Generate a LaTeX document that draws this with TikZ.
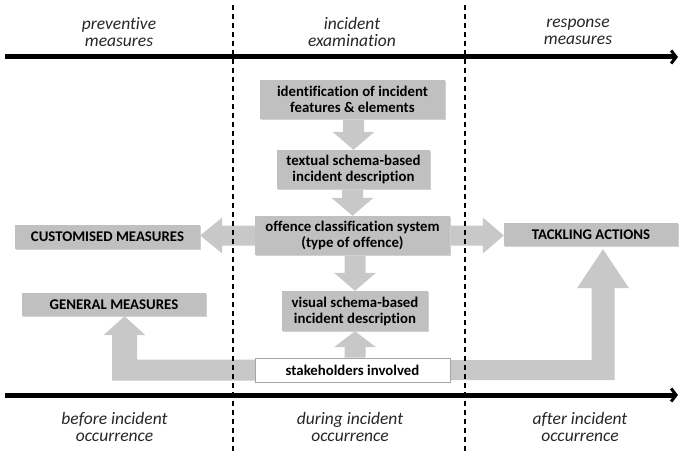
\documentclass[tikz,border=0pt]{standalone}
\usepackage{fontspec}
\setmainfont[Ligatures=NoCommon]{Carlito}
\usetikzlibrary{calc,arrows.meta,backgrounds,shadows}
\definecolor{boxgray}{RGB}{192,192,192}
\definecolor{arrgray}{RGB}{200,200,200}
\newcommand\fatdown[2]{%
  \path[fatarrow] let \p1=(#1), \p2=(#2) in
   (\x2-10.5,\y1) -- (\x2-10.5,\y2+18) -- (\x2-21,\y2+18) -- (\x2,\y2) --
   (\x2+21,\y2+18) -- (\x2+10.5,\y2+18) -- (\x2+10.5,\y1) -- cycle;}
\newcommand\fatup[2]{%
  \path[fatarrow] let \p1=(#1), \p2=(#2) in
   (\x2-10.5,\y1) -- (\x2-10.5,\y2-16) -- (\x2-21,\y2-16) -- (\x2,\y2) --
   (\x2+21,\y2-16) -- (\x2+10.5,\y2-16) -- (\x2+10.5,\y1) -- cycle;}
\begin{document}
\begin{tikzpicture}[x=1pt,y=-1pt,
  box/.style={fill=boxgray,draw=none,inner sep=0pt,align=center,
    font=\fontsize{14.8}{16}\selectfont\bfseries,
    drop shadow={shadow xshift=1pt,shadow yshift=-1pt,fill=black!18,opacity=1}},
  whitebox/.style={fill=white,draw=black!35,line width=0.8pt,inner sep=0pt,align=center,
    font=\fontsize{14.8}{16}\selectfont\bfseries,
    drop shadow={shadow xshift=1pt,shadow yshift=-1pt,fill=black!18,opacity=1}},
  lbl/.style={align=center,font=\fontsize{17.5}{16.5}\selectfont\itshape,text=black!85},
  fatarrow/.style={fill=arrgray,draw=none},
  timeline/.style={line width=5pt,-{Straight Barb[length=5pt,width=13pt,line width=3pt]}},
  divider/.style={line width=1.2pt,dash pattern=on 5pt off 4pt}]
\useasboundingbox (0,0) rectangle (681,452);

% dividers
\coordinate (d1t) at (233,5); \coordinate (d1b) at (233,452);
\coordinate (d2t) at (465,5); \coordinate (d2b) at (465,452);
\draw[divider] (d1t) -- (d1b);
\draw[divider] (d2t) -- (d2b);

% timelines
\coordinate (t1a) at (5,57); \coordinate (t1b) at (678,57);
\coordinate (t2a) at (5,395); \coordinate (t2b) at (678,395);
\draw[timeline] (t1a) -- (t1b);
\draw[timeline] (t2a) -- (t2b);

% phase labels
\node[lbl] (h1) at (119,32) {preventive\\measures};
\node[lbl] (h2) at (352,32) {incident\\examination};
\node[lbl] (h3) at (578,32) {response\\measures};
\node[lbl] (f1) at (114.5,427) {before incident\\occurrence};
\node[lbl] (f2) at (350,427) {during incident\\occurrence};
\node[lbl] (f3) at (580,427) {after incident\\occurrence};

% boxes
\node[box,minimum width=185pt,minimum height=39pt] (ident) at (352.5,99.5) {identification of incident\\features \& elements};
\node[box,minimum width=153pt,minimum height=39pt] (textual) at (353.5,169.5) {textual schema-based\\incident description};
\node[box,minimum width=195pt,minimum height=39pt] (offence) at (352.5,235.5) {offence classification system\\(type of offence)};
\node[box,minimum width=146pt,minimum height=40pt] (visual) at (355,311) {visual schema-based\\incident description};
\node[whitebox,minimum width=195pt,minimum height=24pt] (stake) at (352.5,370) {stakeholders involved};
\node[box,minimum width=185pt,minimum height=24pt] (custom) at (107.5,237) {CUSTOMISED MEASURES};
\node[box,minimum width=184pt,minimum height=23pt] (general) at (114,304.5) {GENERAL MEASURES};
\node[box,minimum width=174pt,minimum height=23pt] (tackling) at (591,234.5) {TACKLING ACTIONS};

\coordinate (gtip) at ($(general.south)+(10.5,0)$);
\coordinate (ttip) at ($(tackling.south)+(12,3)$);

\begin{scope}[on background layer]
  \fatdown{ident.south}{textual.north}
  \fatdown{textual.south}{offence.north}
  \fatdown{offence.south}{visual.north}
  \fatup{stake.north}{visual.south}
  % left and right
  \path[fatarrow] let \p1=(offence.west), \p2=(custom.east) in
    (\x1,\y1-10) -- (\x2+22,\y1-10) -- (\x2+22,\y1-18) -- (\x2,\y1) --
    (\x2+22,\y1+18) -- (\x2+22,\y1+10) -- (\x1,\y1+10) -- cycle;
  \path[fatarrow] let \p1=(offence.east), \p2=(tackling.west) in
    (\x1,\y1-10) -- (\x2-21,\y1-10) -- (\x2-21,\y1-18) -- (\x2,\y1) --
    (\x2-21,\y1+18) -- (\x2-21,\y1+10) -- (\x1,\y1+10) -- cycle;
  % U-shaped arrows from stakeholders
  \path[fatarrow] let \p1=(stake.center), \p2=(gtip) in
    (\x1,\y1+10.5) -- (\x2+12.5,\y1+10.5) -- (\x2+12.5,\y2-19) -- (\x2+21,\y2-19) --
    (\x2,\y2) -- (\x2-21,\y2-19) -- (\x2-12.5,\y2-19) -- (\x2-12.5,\y1-10.5) --
    (\x1,\y1-10.5) -- cycle;
  \path[fatarrow] let \p1=(stake.center), \p2=(ttip) in
    (\x1,\y1+10) -- (\x2-11.5,\y1+10) -- (\x2-11.5,\y2-39) -- (\x2-26,\y2-39) --
    (\x2,\y2) -- (\x2+26,\y2-39) -- (\x2+11.5,\y2-39) -- (\x2+11.5,\y1-10) --
    (\x1,\y1-10) -- cycle;
\end{scope}
\end{tikzpicture}
\end{document}
